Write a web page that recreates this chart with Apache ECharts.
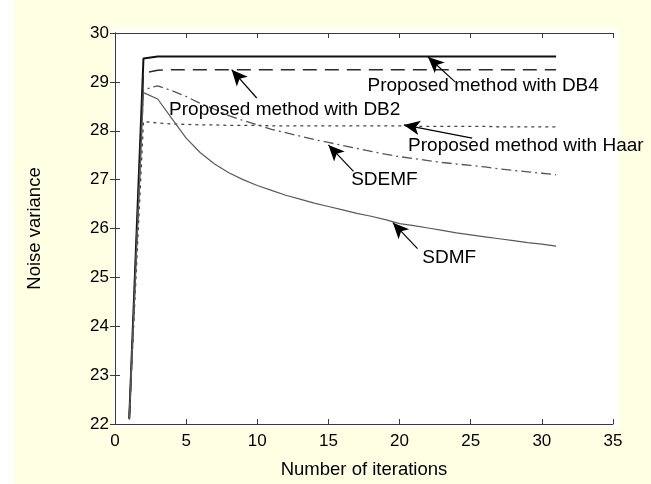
<!DOCTYPE html>
<html>
<head>
<meta charset="utf-8">
<script src="https://cdn.jsdelivr.net/npm/echarts@6/dist/echarts.min.js"></script>
<style>
  html, body { margin: 0; padding: 0; background: #ffffff; }
  #chart { width: 651px; height: 484px; }
</style>
</head>
<body>
<div id="chart"></div>
<script>
// iteration index (x axis)
const iterations = [1, 2, 3, 4, 5, 6, 7, 8, 9, 10, 11, 12, 13, 14, 15, 16,
  17, 18, 19, 20, 21, 22, 23, 24, 25, 26, 27, 28, 29, 30, 31];

// noise variance per method
const db4 = [22.1, 29.48, 29.52, 29.52, 29.52, 29.52, 29.52, 29.52, 29.52, 29.52, 29.52,
  29.52, 29.52, 29.52, 29.52, 29.52, 29.52, 29.52, 29.52, 29.52, 29.52,
  29.52, 29.52, 29.52, 29.52, 29.52, 29.52, 29.52, 29.52, 29.52, 29.52];
const db2 = [22.1, 29.18, 29.24, 29.25, 29.25, 29.25, 29.25, 29.25, 29.25, 29.25, 29.25,
  29.25, 29.25, 29.25, 29.25, 29.25, 29.25, 29.25, 29.25, 29.25, 29.25,
  29.25, 29.25, 29.25, 29.25, 29.25, 29.25, 29.25, 29.25, 29.25, 29.25];
const haar = [22.1, 28.19, 28.16, 28.14, 28.13, 28.12, 28.12, 28.11, 28.11, 28.11, 28.1,
  28.1, 28.1, 28.1, 28.1, 28.1, 28.1, 28.1, 28.1, 28.1, 28.09,
  28.09, 28.09, 28.09, 28.09, 28.09, 28.08, 28.08, 28.08, 28.08, 28.08];
const sdemf = [22.1, 28.84, 28.92, 28.82, 28.7, 28.56, 28.44, 28.31, 28.21, 28.12, 28.03,
  27.96, 27.89, 27.82, 27.76, 27.7, 27.64, 27.58, 27.52, 27.47, 27.43,
  27.39, 27.35, 27.32, 27.29, 27.26, 27.22, 27.19, 27.16, 27.13, 27.1];
const sdmf = [22.1, 28.78, 28.65, 28.25, 27.85, 27.55, 27.32, 27.14, 27.0, 26.88, 26.78,
  26.68, 26.6, 26.52, 26.45, 26.38, 26.31, 26.25, 26.18, 26.1, 26.06,
  26.01, 25.96, 25.91, 25.87, 25.83, 25.79, 25.75, 25.71, 25.68, 25.64];

// axis ticks
const xTicks = { min: 0, max: 35, step: 5 };
const yTicks = { min: 22, max: 30, step: 1 };

// annotation texts, arrow tail -> tip, text anchor (left-middle), all in data units
const notes = [
  { text: "Proposed method with DB4", from: [23.9, 29.0], to: [22.0, 29.51], at: [17.75, 28.92] },
  { text: "Proposed method with DB2", from: [9.96, 28.67], to: [8.2, 29.25], at: [3.8, 28.42] },
  { text: "Proposed method with Haar", from: [25.1, 27.85], to: [20.3, 28.12], at: [20.6, 27.69] },
  { text: "SDEMF", from: [16.76, 27.17], to: [15.0, 27.71], at: [16.6, 27.0] },
  { text: "SDMF", from: [21.26, 25.59], to: [19.53, 26.12], at: [21.6, 25.4] }
];

const font = "Liberation Sans, Arial, Helvetica, sans-serif";
const pairs = vals => iterations.map((x, i) => [x, vals[i]]);

const chart = echarts.init(document.getElementById("chart"));

const axisLine = { show: true, lineStyle: { color: "#3a3a3a", width: 1 } };
const tickIn = { show: true, inside: true, length: 5, lineStyle: { color: "#3a3a3a" } };

const lineSeries = (name, vals, style) => ({
  name: name,
  type: "line",
  data: pairs(vals),
  showSymbol: false,
  symbol: "none",
  silent: true,
  z: 3,
  lineStyle: style
});

const option = {
  backgroundColor: "#ffffe4",
  animation: false,
  textStyle: { fontFamily: font },
  graphic: [
    { type: "rect", left: 0, top: 0, shape: { width: 13, height: 484 }, style: { fill: "#ffffff" }, z: -1 },
    { type: "rect", left: 113, top: 29, shape: { width: 506, height: 399 }, style: { fill: "#ffffff" }, z: -1 }
  ],
  grid: { left: 115, right: 38, top: 33, bottom: 59, show: false },
  xAxis: [
    {
      type: "value", min: xTicks.min, max: xTicks.max, interval: xTicks.step,
      name: "Number of iterations", nameLocation: "middle", nameGap: 36,
      nameTextStyle: { color: "#000", fontSize: 18.5, fontFamily: font },
      axisLine: axisLine, axisTick: tickIn, splitLine: { show: false },
      axisLabel: { color: "#000", fontSize: 17, margin: 9, fontFamily: font }
    },
    {
      type: "value", position: "top", min: xTicks.min, max: xTicks.max, interval: xTicks.step,
      axisLine: axisLine, axisTick: tickIn, splitLine: { show: false },
      axisLabel: { show: false }
    }
  ],
  yAxis: [
    {
      type: "value", min: yTicks.min, max: yTicks.max, interval: yTicks.step,
      name: "Noise variance", nameLocation: "middle", nameGap: 71,
      nameTextStyle: { color: "#000", fontSize: 18.5, fontFamily: font },
      axisLine: axisLine, axisTick: tickIn, splitLine: { show: false },
      axisLabel: { color: "#000", fontSize: 17, margin: 6, fontFamily: font }
    },
    {
      type: "value", position: "right", min: yTicks.min, max: yTicks.max, interval: yTicks.step,
      axisLine: axisLine, axisTick: tickIn, splitLine: { show: false },
      axisLabel: { show: false }
    }
  ],
  series: [
    lineSeries("DB4", db4, { color: "#111111", width: 2 }),
    lineSeries("DB2", db2, { color: "#2a2a2a", width: 1.5, type: [14, 8] }),
    lineSeries("Haar", haar, { color: "#444444", width: 1.3, type: [3, 4] }),
    lineSeries("SDEMF", sdemf, { color: "#555555", width: 1.3, type: [10, 4, 2, 4] }),
    lineSeries("SDMF", sdmf, { color: "#5a5a5a", width: 1.2 }),
    {
      name: "notes",
      type: "line",
      data: [],
      silent: true,
      z: 5,
      markLine: {
        silent: true,
        animation: false,
        symbol: ["none", "arrow"],
        symbolSize: [11, 16],
        label: { show: false },
        lineStyle: { color: "#000", width: 1.2, type: "solid" },
        data: notes.map(n => [{ coord: n.from }, { coord: n.to }])
      },
      markPoint: {
        silent: true,
        animation: false,
        symbol: "circle",
        symbolSize: 0,
        itemStyle: { color: "transparent" },
        label: {
          show: true,
          position: "right",
          distance: 0,
          color: "#000",
          fontSize: 19,
          fontFamily: font,
          formatter: p => p.name
        },
        data: notes.map(n => ({ name: n.text, coord: n.at }))
      }
    }
  ]
};

chart.setOption(option);
</script>
</body>
</html>
